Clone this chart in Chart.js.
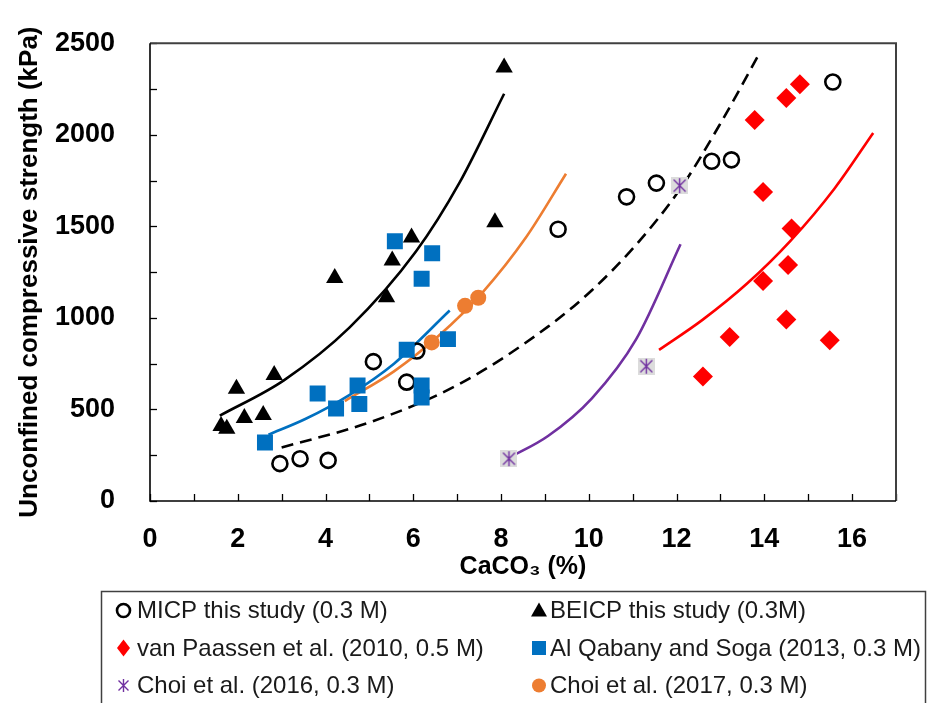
<!DOCTYPE html>
<html>
<head>
<meta charset="utf-8">
<script src="https://cdn.jsdelivr.net/npm/chart.js@4.4.1/dist/chart.umd.min.js"></script>
<style>
html,body{margin:0;padding:0;background:#fff;}
#wrap{width:927px;height:703px;position:relative;}
</style>
</head>
<body>
<div id="wrap"><canvas id="c" width="927" height="703"></canvas></div>
<script>
// ---------- data ----------
const micpX = [2.96, 3.42, 4.06, 5.09, 5.85, 6.08, 9.30, 10.86, 11.54, 12.80, 13.25, 15.56];
const micpY = [204, 231, 222, 761, 649, 819, 1484, 1661, 1736, 1855, 1863, 2288];

const beicpX = [1.62, 1.75, 1.97, 2.15, 2.58, 2.83, 4.21, 5.39, 5.52, 5.96, 7.86, 8.07];
const beicpY = [410, 395, 613, 453, 470, 688, 1218, 1113, 1313, 1439, 1522, 2367];

const paassenX = [14.81, 14.50, 13.78, 13.97, 14.62, 14.54, 13.97, 14.50, 13.21, 15.49, 12.60];
const paassenY = [2276, 2201, 2081, 1687, 1488, 1289, 1202, 991, 896, 878, 680];

const qabanyX = [2.62, 3.82, 4.24, 4.73, 4.77, 5.58, 5.85, 6.19, 6.19, 6.19, 6.43, 6.79];
const qabanyY = [319, 587, 505, 631, 530, 1418, 826, 1214, 631, 565, 1353, 884];

const choi2016X = [8.18, 11.31, 12.07];
const choi2016Y = [231, 736, 1722];

const choi2017X = [6.42, 7.18, 7.48];
const choi2017Y = [866, 1066, 1110];

// trend curves
const fitBeicpX = [1.59, 3.05, 4.55, 6.06, 7.06, 8.07];
const fitBeicpY = [466, 659, 948, 1362, 1741, 2224];
const fitQabanyX = [2.70, 3.55, 4.55, 5.56, 6.83];
const fitQabanyY = [362, 449, 580, 750, 1040];
const fitChoi2017X = [4.44, 5.56, 6.56, 7.57, 8.57, 9.48];
const fitChoi2017Y = [546, 708, 898, 1137, 1440, 1787];
const fitMicpX = [3.00, 5.06, 7.06, 9.07, 10.07, 11.08, 12.09, 13.00, 13.90];
const fitMicpY = [292, 434, 640, 952, 1151, 1400, 1707, 2062, 2450];
const fitChoi2016X = [8.20, 9.07, 10.07, 11.08, 12.09];
const fitChoi2016Y = [238, 355, 561, 884, 1402];
const fitPaassenX = [11.60, 12.59, 13.60, 14.60, 15.60, 16.48];
const fitPaassenY = [825, 989, 1186, 1422, 1707, 2010];

const legendLabels = [
  'MICP this study (0.3 M)', 'BEICP this study (0.3M)',
  'van Paassen et al. (2010, 0.5 M)', 'Al Qabany and Soga (2013, 0.3 M)',
  'Choi et al. (2016, 0.3 M)', 'Choi et al. (2017, 0.3 M)'
];
const xTitle = 'CaCO\u2083 (%)';
const yTitle = 'Unconfined compressive strength (kPa)';

// ---------- helpers ----------
const FONT = "'Liberation Sans', Arial, Helvetica, sans-serif";
const BLACK = '#000000', RED = '#FF0000', BLUE = '#0070C0', ORANGE = '#ED7D31', PURPLE = '#7030A0';
const pts = (xs, ys) => xs.map((x, i) => ({x: x, y: ys[i]}));

function makeStar(size, bg) {
  const c = document.createElement('canvas');
  c.width = size; c.height = size;
  const g = c.getContext('2d');
  if (bg) { g.fillStyle = '#dcdcdc'; g.fillRect(0, 0, size, size); }
  g.strokeStyle = PURPLE; g.lineWidth = 1.4;
  g.beginPath();
  g.moveTo(size / 2, 1); g.lineTo(size / 2, size - 1);
  g.moveTo(2.5, 2.5); g.lineTo(size - 2.5, size - 2.5);
  g.moveTo(size - 2.5, 2.5); g.lineTo(2.5, size - 2.5);
  g.stroke();
  return c;
}
const starPoint = makeStar(17, true);
const starLegend = makeStar(15, false);

function scatterSet(label, xs, ys, style, radius, fill, stroke, bw, order) {
  return {
    label: label, data: pts(xs, ys), showLine: false, order: order,
    pointStyle: style, pointRadius: radius, pointHoverRadius: radius,
    backgroundColor: fill, borderColor: stroke, borderWidth: bw, pointBorderWidth: bw
  };
}
function fitSet(xs, ys, color, dash) {
  return {
    label: '', data: pts(xs, ys), showLine: true, order: 10,
    borderColor: color, borderWidth: 2.6, borderDash: dash || [],
    pointRadius: 0, pointHoverRadius: 0, fill: false,
    cubicInterpolationMode: 'monotone', borderCapStyle: 'butt'
  };
}

// ---------- plugins ----------
const framePlugin = {
  id: 'frame',
  afterDatasetsDraw(chart) {
    const {ctx, chartArea: a, scales: {x, y}} = chart;
    ctx.save();
    ctx.strokeStyle = '#000'; ctx.lineWidth = 1.3;
    x.ticks.forEach(t => {
      const px = Math.round(x.getPixelForValue(t.value)) + 0.5;
      ctx.beginPath(); ctx.moveTo(px, a.bottom); ctx.lineTo(px, a.bottom - 7); ctx.stroke();
    });
    y.ticks.forEach(t => {
      const py = Math.round(y.getPixelForValue(t.value)) + 0.5;
      ctx.beginPath(); ctx.moveTo(a.left, py); ctx.lineTo(a.left + 7, py); ctx.stroke();
    });
    ctx.strokeStyle = '#404040'; ctx.lineWidth = 2;
    ctx.beginPath(); ctx.moveTo(a.left, a.top); ctx.lineTo(a.right, a.top); ctx.lineTo(a.right, a.bottom); ctx.stroke();
    ctx.strokeStyle = '#000'; ctx.lineWidth = 1.6;
    ctx.beginPath(); ctx.moveTo(a.left, a.top); ctx.lineTo(a.left, a.bottom); ctx.lineTo(a.right, a.bottom); ctx.stroke();
    ctx.restore();
  }
};

function drawMarker(ctx, kind, cx, cy) {
  ctx.save();
  ctx.beginPath();
  if (kind === 'circleOpen') {
    ctx.arc(cx, cy, 6.5, 0, Math.PI * 2);
    ctx.strokeStyle = '#000'; ctx.lineWidth = 2.6; ctx.stroke();
  } else if (kind === 'triangle') {
    ctx.moveTo(cx, cy - 8); ctx.lineTo(cx + 8, cy + 6); ctx.lineTo(cx - 8, cy + 6); ctx.closePath();
    ctx.fillStyle = '#000'; ctx.fill();
  } else if (kind === 'diamond') {
    ctx.moveTo(cx, cy - 8.5); ctx.lineTo(cx + 6.5, cy); ctx.lineTo(cx, cy + 8.5); ctx.lineTo(cx - 6.5, cy); ctx.closePath();
    ctx.fillStyle = RED; ctx.fill();
  } else if (kind === 'square') {
    ctx.fillStyle = BLUE; ctx.fillRect(cx - 7, cy - 7, 14, 14);
  } else if (kind === 'dot') {
    ctx.arc(cx, cy, 7, 0, Math.PI * 2); ctx.fillStyle = ORANGE; ctx.fill();
  } else if (kind === 'star') {
    ctx.drawImage(starLegend, cx - 7.5, cy - 7.5);
  }
  ctx.restore();
}

const legendPlugin = {
  id: 'boxLegend',
  afterDraw(chart) {
    const ctx = chart.ctx;
    ctx.save();
    ctx.strokeStyle = '#404040'; ctx.lineWidth = 1.5;
    ctx.strokeRect(101.5, 591.5, 824, 130);
    const kinds = ['circleOpen', 'triangle', 'diamond', 'square', 'star', 'dot'];
    const colMarker = [123.5, 539];
    const colText = [137, 550];
    const rowY = [610.5, 648, 685.5];
    ctx.font = '24px ' + FONT;
    ctx.fillStyle = '#1a1a1a';
    ctx.textBaseline = 'middle';
    ctx.textAlign = 'left';
    legendLabels.forEach((lab, i) => {
      const col = i % 2, row = Math.floor(i / 2);
      drawMarker(ctx, kinds[i], colMarker[col], rowY[row]);
      ctx.fillText(lab, colText[col], rowY[row] + 1);
    });
    ctx.restore();
  }
};

// ---------- chart ----------
const datasets = [
  scatterSet(legendLabels[0], micpX, micpY, 'circle', 7.5, 'rgba(255,255,255,0)', BLACK, 2.6, 3),
  scatterSet(legendLabels[1], beicpX, beicpY, 'triangle', 10, BLACK, BLACK, 0, 2),
  scatterSet(legendLabels[2], paassenX, paassenY, 'rectRot', 10, RED, RED, 0, 2),
  scatterSet(legendLabels[3], qabanyX, qabanyY, 'rect', 11.3, BLUE, BLUE, 0, 1),
  scatterSet(legendLabels[4], choi2016X, choi2016Y, starPoint, 8.5, PURPLE, PURPLE, 0, 2),
  scatterSet(legendLabels[5], choi2017X, choi2017Y, 'circle', 8, ORANGE, ORANGE, 0, 0),
  fitSet(fitBeicpX, fitBeicpY, BLACK),
  fitSet(fitQabanyX, fitQabanyY, BLUE),
  fitSet(fitChoi2017X, fitChoi2017Y, ORANGE),
  fitSet(fitMicpX, fitMicpY, BLACK, [12, 7]),
  fitSet(fitChoi2016X, fitChoi2016Y, PURPLE),
  fitSet(fitPaassenX, fitPaassenY, RED)
];

new Chart(document.getElementById('c'), {
  type: 'scatter',
  data: {datasets: datasets},
  options: {
    responsive: false,
    animation: false,
    devicePixelRatio: 1,
    events: [],
    layout: {padding: {left: 14, top: 22, right: 31, bottom: 121}},
    plugins: {legend: {display: false}, tooltip: {enabled: false}},
    scales: {
      x: {
        type: 'linear', min: 0, max: 17,
        afterFit(s) { s.height = 81; },
        grid: {display: false},
        border: {display: false},
        ticks: {
          stepSize: 1, autoSkip: false, maxRotation: 0, padding: 14, color: '#000',
          font: {family: FONT, size: 27, weight: 'bold'},
          callback: v => (v % 2 === 0 ? String(v) : '')
        },
        title: {display: true, text: xTitle, color: '#000', padding: 0,
          font: {family: FONT, size: 25, weight: 'bold'}}
      },
      y: {
        type: 'linear', min: 0, max: 2500,
        afterFit(s) { s.width = 136; },
        grid: {display: false},
        border: {display: false},
        ticks: {
          stepSize: 250, autoSkip: false, padding: 27, color: '#000',
          font: {family: FONT, size: 27, weight: 'bold'},
          callback: v => (v % 500 === 0 ? String(v) : '')
        },
        title: {display: true, text: yTitle, color: '#000', padding: 0,
          font: {family: FONT, size: 26, weight: 'bold'}}
      }
    }
  },
  plugins: [framePlugin, legendPlugin]
});
</script>
</body>
</html>
